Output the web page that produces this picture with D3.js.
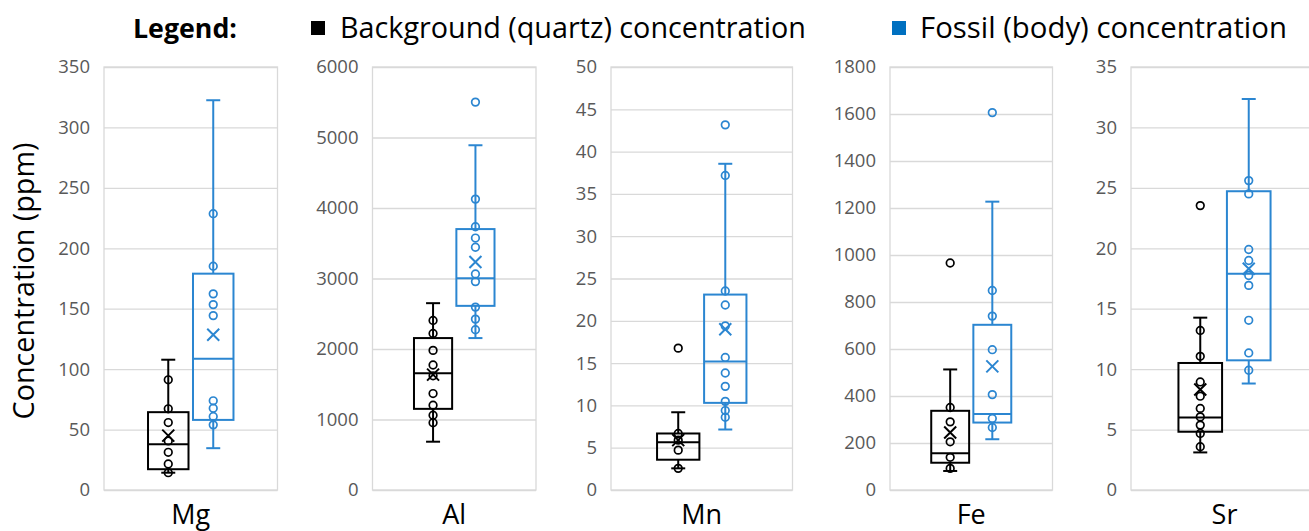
<!DOCTYPE html>
<html><head><meta charset="utf-8">
<script src="https://cdn.jsdelivr.net/npm/d3@7"></script>
<style>body{margin:0;background:#fff;} text{font-family:"Open Sans",sans-serif;}</style>
</head><body><svg id="c" width="1309" height="531"></svg>
<script>
// ---------- data ----------
const elements = ["Mg", "Al", "Mn", "Fe", "Sr"];
const seriesNames = ["Background (quartz) concentration", "Fossil (body) concentration"];
const axisMax = [350, 6000, 50, 1800, 35];
const tickStep = [50, 1000, 5, 200, 5];

// Background (quartz) box statistics
const bgLow    = [14.3, 685, 2.56, 81, 3.11];
const bgQ1     = [17.2, 1151, 3.58, 116, 4.82];
const bgMedian = [37.9, 1655, 5.65, 156, 6.0];
const bgQ3     = [64.4, 2155, 6.68, 337, 10.51];
const bgHigh   = [107.8, 2650, 9.19, 513, 14.26];
const bgMean   = [45, 1636, 5.9, 245, 8.31];
const bgPoints = [
  [91.2, 67.2, 55.8, 40.6, 31.2, 21.5, 14.3],
  [2405, 2221, 1980, 1773, 1620, 1368, 1202, 1061, 953],
  [16.77, 6.68, 5.89, 4.71, 2.56],
  [966, 351, 290, 205, 139, 92],
  [23.53, 13.2, 11.06, 8.94, 7.76, 6.75, 6.05, 5.37, 4.68, 3.58]
];

// Fossil (body) box statistics
const fsLow    = [34.6, 2155, 7.15, 216, 8.81];
const fsQ1     = [58, 2612, 10.3, 287, 10.73];
const fsMedian = [108.6, 3004, 15.2, 323, 17.9];
const fsQ3     = [179, 3701, 23.1, 703, 24.72];
const fsHigh   = [322.5, 4890, 38.56, 1227, 32.35];
const fsMean   = [128.5, 3235, 19.0, 526, 18.3];
const fsPoints = [
  [228.6, 185.2, 162.3, 153.4, 144.3, 73.8, 67.7, 60.8, 53.9],
  [5502, 4126, 3734, 3574, 3443, 3065, 2956, 2594, 2424, 2273],
  [43.16, 37.18, 23.52, 21.87, 19.4, 15.67, 13.83, 12.25, 10.48, 9.39, 8.6],
  [1606, 849, 740, 597, 406, 304, 266],
  [25.6, 24.5, 19.9, 18.99, 17.75, 16.93, 14.04, 11.34, 9.91]
];

// ---------- layout ----------
const panelLeft  = [104, 372.5, 611, 890, 1131];
const panelRight = [277.5, 536, 792.5, 1052.5, 1318];
const plotTop = 67, plotBottom = 490;
const colors = ["#000000", "#2b86d1"];
const legendColors = ["#000000", "#0070c0"];
const gridColor = "#d9d9d9";

const svg = d3.select("#c");

function fitText(sel, width, start) {
  sel.attr("font-size", start);
  const w = sel.node().getComputedTextLength();
  sel.attr("font-size", start * width / w);
}

const stats = [
  {low: bgLow, q1: bgQ1, med: bgMedian, q3: bgQ3, high: bgHigh, mean: bgMean, pts: bgPoints},
  {low: fsLow, q1: fsQ1, med: fsMedian, q3: fsQ3, high: fsHigh, mean: fsMean, pts: fsPoints}
];

elements.forEach((el, i) => {
  const L = panelLeft[i], R = panelRight[i], W = R - L;
  const g = svg.append("g");
  const y = d3.scaleLinear().domain([0, axisMax[i]]).range([plotBottom, plotTop]);
  const ticks = d3.range(0, axisMax[i] + tickStep[i] / 2, tickStep[i]);

  // grid + tick labels
  const ax = g.append("g").attr("transform", `translate(${L},0)`)
    .call(d3.axisLeft(y).tickValues(ticks).tickSize(-W).tickPadding(14).tickFormat(d3.format("d")));
  ax.select(".domain").remove();
  ax.selectAll(".tick line").attr("stroke", gridColor).attr("stroke-width", 1.3);
  ax.selectAll(".tick text").attr("fill", "#595959").attr("font-size", 18.5)
    .attr("font-family", "'Open Sans', sans-serif");
  // plot border
  g.append("rect").attr("x", L).attr("y", plotTop).attr("width", W).attr("height", plotBottom - plotTop)
    .attr("fill", "none").attr("stroke", gridColor).attr("stroke-width", 1.3);

  const x0 = d3.scaleBand().domain([el]).range([L, R]).padding(0.34);
  const x1 = d3.scaleBand().domain([0, 1]).range([0, x0.bandwidth()]).paddingInner(0.1);
  const bw = x1.bandwidth();

  [0, 1].forEach(s => {
    const st = stats[s];
    const c = colors[s];
    const bx = x0(el) + x1(s), cx = bx + bw / 2;
    const bg = g.append("g").attr("stroke", c).attr("fill", "none");
    // whiskers
    bg.append("line").attr("x1", cx).attr("x2", cx).attr("y1", y(st.high[i])).attr("y2", y(st.q3[i])).attr("stroke-width", 2);
    bg.append("line").attr("x1", cx).attr("x2", cx).attr("y1", y(st.q1[i])).attr("y2", y(st.low[i])).attr("stroke-width", 2);
    bg.append("line").attr("x1", cx - 7).attr("x2", cx + 7).attr("y1", y(st.high[i])).attr("y2", y(st.high[i])).attr("stroke-width", 2);
    bg.append("line").attr("x1", cx - 7).attr("x2", cx + 7).attr("y1", y(st.low[i])).attr("y2", y(st.low[i])).attr("stroke-width", 2);
    // box
    bg.append("rect").attr("x", bx).attr("width", bw).attr("y", y(st.q3[i]))
      .attr("height", y(st.q1[i]) - y(st.q3[i])).attr("stroke-width", 2);
    bg.append("line").attr("x1", bx).attr("x2", bx + bw).attr("y1", y(st.med[i])).attr("y2", y(st.med[i])).attr("stroke-width", 2);
    // points
    bg.selectAll("circle.p").data(st.pts[i]).join("circle").attr("class", "p")
      .attr("cx", cx).attr("cy", d => y(d)).attr("r", 3.8).attr("stroke-width", 1.7);
    // mean X
    const my = y(st.mean[i]);
    bg.append("path").attr("d", `M${cx - 6},${my - 6}L${cx + 6},${my + 6}M${cx - 6},${my + 6}L${cx + 6},${my - 6}`)
      .attr("stroke-width", 2);
  });

  // category label
  g.append("text").attr("x", x0(el) + x0.bandwidth() / 2).attr("y", 524)
    .attr("text-anchor", "middle").attr("font-size", 27).attr("fill", "#000").text(el);
});

// y-axis title
const yt = svg.append("text").attr("transform", "translate(34,281) rotate(-90)")
  .attr("text-anchor", "middle").attr("fill", "#000").text("Concentration (ppm)");
fitText(yt, 277, 24);

// legend
const lg = svg.append("g");
const lt = lg.append("text").attr("x", 133).attr("y", 38).attr("font-weight", "bold").attr("fill", "#000").text("Legend:");
fitText(lt, 104, 24);
const legX = [311, 892], legTextX = [340, 920], legTextW = [466, 367];
seriesNames.forEach((n, k) => {
  lg.append("rect").attr("x", legX[k]).attr("y", 21).attr("width", 14).attr("height", 14).attr("fill", legendColors[k]);
  const t = lg.append("text").attr("x", legTextX[k]).attr("y", 38).attr("fill", "#000").text(n);
  fitText(t, legTextW[k], 26);
});
</script></body></html>
